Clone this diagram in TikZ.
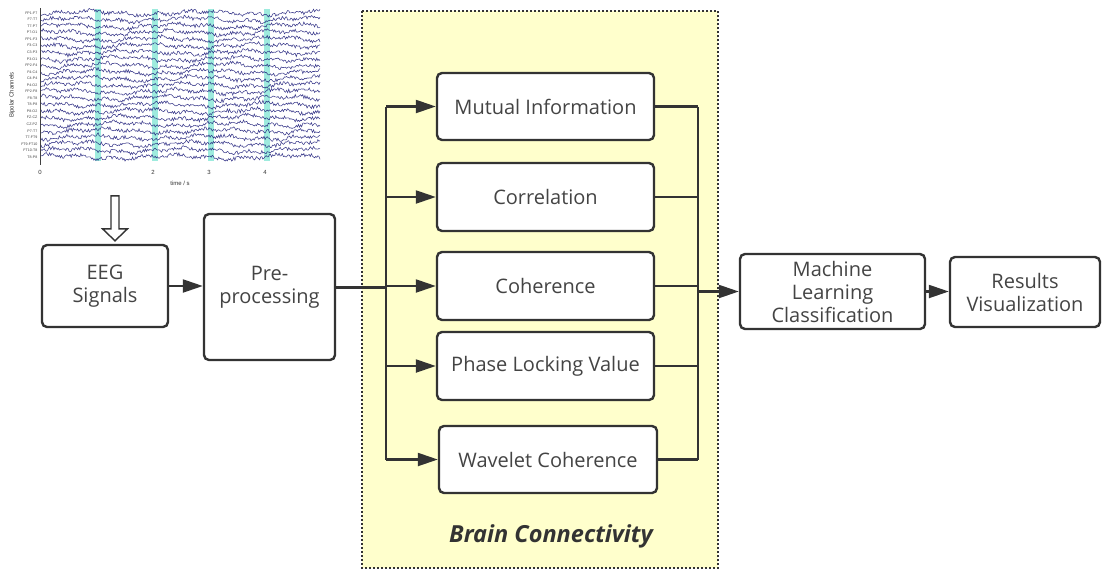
\documentclass[tikz,border=0pt]{standalone}
\usepackage{fontspec}
\setmainfont{Open Sans}
\newfontfamily\plotfont{Liberation Sans}
\usetikzlibrary{arrows.meta,calc}

\definecolor{linec}{HTML}{333333}
\definecolor{textc}{HTML}{444444}
\definecolor{bcfill}{HTML}{FFFFCC}
\definecolor{trace}{HTML}{1A1A78}
\definecolor{marker}{HTML}{86E6D6}

\newcommand\boxfont{\fontsize{20}{23}\selectfont}

\tikzset{
  box/.style={draw=linec, line width=2.4pt, rounded corners=5pt, fill=white,
    text=textc, font=\boxfont, align=center, inner sep=0pt},
  conn/.style={draw=linec, line width=2.2pt},
  trunk/.style={draw=linec, line width=3pt},
  arr/.style={conn, -{Triangle[length=20pt,width=13pt]}},
  eegline/.style={draw=trace, line width=0.55pt, opacity=0.85},
  chan/.style={font=\plotfont\fontsize{3.6}{4}\selectfont, text=black!75, anchor=east, inner sep=0pt},
  ticklab/.style={font=\plotfont\fontsize{6}{7}\selectfont, text=black!80, inner sep=0pt}
}

\begin{document}
\begin{tikzpicture}[x=1pt,y=-1pt]
\useasboundingbox (0,0) rectangle (1102,571);

% brain connectivity panel
\draw[fill=bcfill, draw=linec, line width=2pt, dash pattern=on 2pt off 2pt]
  (362,11) rectangle (718,568);
\node[font=\fontsize{23.5}{27}\selectfont\bfseries\itshape, text=linec] (bclabel) at (551,536) {Brain Connectivity};

% ---- EEG recording plot ----
\foreach \mx in {98,155,211,267}
  \fill[marker, opacity=0.8] (\mx-2.6,9) rectangle (\mx+2.6,161);
\pgfmathsetseed{11}
\foreach \i in {0,...,22}{
  \pgfmathsetmacro{\base}{13+\i*6.545}
  \draw[eegline] plot[domain=41:320, samples=260]
    (\x, {\base + 1.7*sin(3.1*\x + 37*\i) + 1.2*sin(11*\x + 71*\i) + 1.8*rand});
}
\draw[black!75, line width=0.8pt] (40,8) -- (40,165);
\foreach \lab [count=\k from 0] in {FP1-F7,F7-T7,T7-P7,P7-O1,FP1-F3,F3-C3,C3-P3,P3-O1,FP2-F4,F4-C4,C4-P4,P4-O2,FP2-F8,F8-T8,T8-P8,P8-O2,FZ-CZ,CZ-PZ,P7-T7,T7-FT9,FT9-FT10,FT10-T8,T8-P8}
  \node[chan] at (37.5,{13+\k*6.545}) {\lab};
\node[ticklab, rotate=90] (ylab) at (12,95) {Bipolar Channels};
\node[ticklab] (t0) at (40,172) {0};
\node[ticklab] (t2) at (153,172) {2};
\node[ticklab] (t3) at (209,172) {3};
\node[ticklab] (t4) at (265,172) {4};
\node[ticklab] (xlab) at (180,183) {time / s};

% ---- processing blocks ----
\node[box, minimum width=126pt, minimum height=82pt] (eeg) at (105,286) {EEG\\Signals};
\node[box, minimum width=131pt, minimum height=146pt] (pre) at (269.5,287) {Pre-\\processing};

\node[box, minimum width=217pt, minimum height=67pt] (mi)  at (545.5,106.5) {Mutual Information};
\node[box, minimum width=217pt, minimum height=68pt] (cor) at (545.5,197) {Correlation};
\node[box, minimum width=217pt, minimum height=68pt] (coh) at (545.5,286) {Coherence};
\node[box, minimum width=217pt, minimum height=68pt] (plv) at (545.5,366) {Phase Locking Value};
\node[box, minimum width=218pt, minimum height=67pt] (wc)  at (548,459.5) {Wavelet Coherence};

\node[box, minimum width=185pt, minimum height=75pt] (ml)  at (832.5,291.5) {Machine\\Learning\\Classification};
\node[box, minimum width=150pt, minimum height=70pt] (res) at (1025,292) {Results\\Visualization};

% hollow arrow from the recording into the signal block
\coordinate (tip) at ($(eeg.north)+(10,-3)$);
\draw[draw=linec, line width=1.4pt, fill=white, line join=miter]
  ($(tip)+(-4,-45)$) -- ($(tip)+(4,-45)$) -- ($(tip)+(4,-12)$) -- ($(tip)+(12.5,-12)$)
  -- (tip) -- ($(tip)+(-12.5,-12)$) -- ($(tip)+(-4,-12)$) -- cycle;

% ---- connectors ----
\coordinate (busL) at (386,0);
\coordinate (busR) at (698,0);

\draw[arr] (eeg.east) -- (eeg.east -| pre.west);
\draw[trunk] (pre.east) -- (pre.east -| busL);
\draw[conn] (busL |- mi.west) -- (busL |- wc.west);
\foreach \n in {mi,cor,coh,plv,wc}
  \draw[arr] (busL |- \n.west) -- (\n.west);

\draw[conn] (busR |- mi.east) -- (busR |- wc.east);
\foreach \n in {mi,cor,coh,plv,wc}
  \draw[conn] (\n.east) -- (busR |- \n.east);
\draw[arr] (busR |- ml.west) -- (ml.west);
\draw[arr] (ml.east) -- (ml.east -| res.west);

\end{tikzpicture}
\end{document}
